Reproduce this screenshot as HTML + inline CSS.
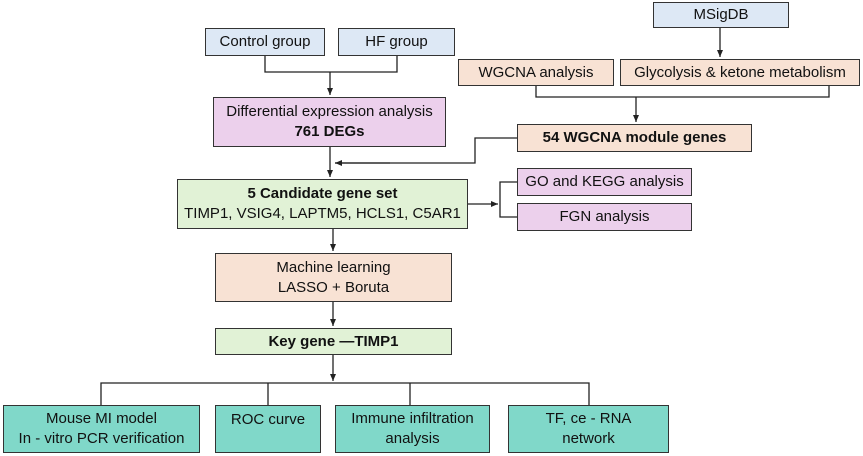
<!DOCTYPE html>
<html><head><meta charset="utf-8"><style>
body{margin:0;width:863px;height:456px;background:#fff;position:relative;overflow:hidden;font-family:"Liberation Sans",sans-serif;}
.b{position:absolute;box-sizing:border-box;border:1.5px solid #333;display:flex;flex-direction:column;align-items:center;justify-content:center;text-align:center;font-size:15px;line-height:20px;color:#111;}
.bl{background:#dde8f5}.pk{background:#ecd0ec}.pe{background:#f8e2d4}.gr{background:#e1f2d6}.te{background:#80d8c9}
b{font-weight:bold}
svg{position:absolute;left:0;top:0}
</style></head><body>
<svg width="863" height="456">
<defs><marker id="a" markerWidth="8" markerHeight="8" refX="7" refY="4" orient="auto" markerUnits="userSpaceOnUse"><path d="M0,1 L7,4 L0,7z" fill="#222"/></marker></defs>
<g stroke="#222" stroke-width="1.3" fill="none">
<polyline points="265,56 265,72 397,72 397,56"/>
<line x1="330" y1="72" x2="330" y2="95" marker-end="url(#a)"/>
<line x1="720" y1="28" x2="720" y2="57" marker-end="url(#a)"/>
<polyline points="536,86 536,97 829,97 829,86"/>
<line x1="636" y1="97" x2="636" y2="122" marker-end="url(#a)"/>
<polyline points="517,138 475,138 475,163 335,163"/>
<line x1="390" y1="163" x2="335" y2="163" marker-end="url(#a)"/>
<line x1="330" y1="147" x2="330" y2="177" marker-end="url(#a)"/>
<line x1="468" y1="204" x2="498" y2="204" marker-end="url(#a)"/>
<polyline points="517,182 500,182 500,217 517,217"/>
<line x1="333" y1="229" x2="333" y2="251" marker-end="url(#a)"/>
<line x1="333" y1="302" x2="333" y2="326" marker-end="url(#a)"/>
<line x1="333" y1="355" x2="333" y2="381" marker-end="url(#a)"/>
<polyline points="101,405 101,383 589,383 589,405"/>
<line x1="268" y1="383" x2="268" y2="405"/>
<line x1="410" y1="383" x2="410" y2="405"/>
</g></svg>
<div class="b bl" style="left:205px;top:28px;width:120px;height:28px">Control group</div>
<div class="b bl" style="left:338px;top:28px;width:117px;height:28px">HF group</div>
<div class="b bl" style="left:653px;top:2px;width:136px;height:26px">MSigDB</div>
<div class="b pe" style="left:458px;top:59px;width:156px;height:27px">WGCNA analysis</div>
<div class="b pe" style="left:620px;top:59px;width:240px;height:27px">Glycolysis &amp; ketone metabolism</div>
<div class="b pk" style="left:213px;top:97px;width:233px;height:50px">Differential expression analysis<br><b>761 DEGs</b></div>
<div class="b pe" style="left:517px;top:124px;width:235px;height:28px"><b>54 WGCNA module genes</b></div>
<div class="b gr" style="left:177px;top:179px;width:291px;height:50px"><b>5 Candidate gene set</b>TIMP1, VSIG4, LAPTM5, HCLS1, C5AR1</div>
<div class="b pk" style="left:517px;top:168px;width:175px;height:28px">GO and KEGG analysis</div>
<div class="b pk" style="left:517px;top:203px;width:175px;height:28px">FGN analysis</div>
<div class="b pe" style="left:215px;top:253px;width:237px;height:49px">Machine learning<br>LASSO + Boruta</div>
<div class="b gr" style="left:215px;top:328px;width:237px;height:27px"><b>Key gene —TIMP1</b></div>
<div class="b te" style="left:3px;top:405px;width:197px;height:48px">Mouse MI model<br>In - vitro PCR verification</div>
<div class="b te" style="left:215px;top:405px;width:106px;height:48px;justify-content:flex-start;padding-top:4px">ROC curve</div>
<div class="b te" style="left:335px;top:405px;width:155px;height:48px">Immune infiltration<br>analysis</div>
<div class="b te" style="left:508px;top:405px;width:161px;height:48px">TF, ce - RNA<br>network</div>
</body></html>
